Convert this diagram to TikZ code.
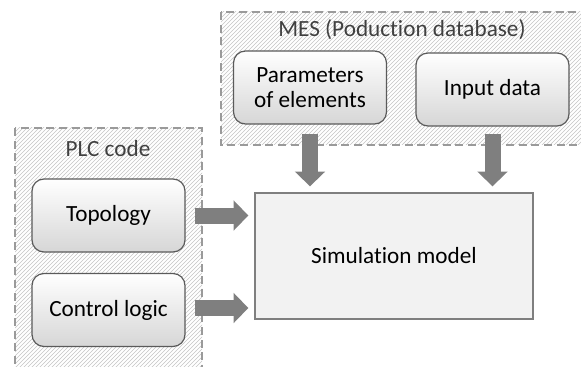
\documentclass[tikz,border=0pt]{standalone}
\usepackage{fontspec}
\setmainfont{Carlito}[Ligatures=NoCommon]
\usetikzlibrary{arrows.meta,patterns,positioning}
\definecolor{framegray}{HTML}{9A9A9A}
\definecolor{hatchgray}{HTML}{C4C4C4}
\definecolor{boxborder}{HTML}{5A5A5A}
\definecolor{arrowgray}{HTML}{7F7F7F}
\definecolor{titlegray}{HTML}{404040}
\tikzstyle{group} = [draw=framegray, dash pattern=on 6pt off 3.5pt, line width=1.1pt, pattern=north east lines, pattern color=hatchgray]
\tikzstyle{source} = [draw=boxborder, line width=0.9pt, rounded corners=9pt, top color=white, bottom color=black!16, minimum width=114.75pt, minimum height=54.75pt, align=center, inner sep=0pt]
\tikzstyle{model} = [draw=arrowgray, line width=1pt, fill=black!5, minimum width=208.5pt, minimum height=94.5pt]
\tikzstyle{fat} = [draw=arrowgray, line width=12pt, -{Triangle[length=11pt,width=22pt]}]
\RequirePackage{pgf,pgffor}

\begin{document}
\begin{tikzpicture}[x=0.75pt,y=-0.75pt,font=\fontsize{17.4}{19}\selectfont]
        \clip (0,0) rectangle (581,367);
        % dashed groups
        \draw[group] (15,128) rectangle (202,385);
        \draw[group] (221,12) rectangle (595,145);
        \node (plc) [text=titlegray] at (108,149) {PLC code};
        \node (mes) [text=titlegray] at (402,30) {MES (Poduction database)};

        \node (topo) [source] at (108.5,215.5) {Topology};
        \node (ctrl) [source] at (108.5,310) {Control logic};
        \node (param) [source] at (310,87.5) {Parameters\\of elements};
        \node (input) [source] at (492.5,89.5) {Input data};
        \node (sim) [model] at (394,256) {Simulation model};

        \draw[fat, shorten <=6.75pt, shorten >=4.5pt] (topo.east) -- (sim.west |- topo.east);
        \draw[fat, shorten <=6.75pt, shorten >=4.5pt] ([yshift=1.5pt]ctrl.east) -- ([yshift=1.5pt]sim.west |- ctrl.east);
        \draw[fat, shorten <=6.75pt, shorten >=4.5pt] (param.south) -- (sim.north -| param.south);
        \draw[fat, shorten <=5.25pt, shorten >=4.5pt] (input.south) -- (sim.north -| input.south);
    \end{tikzpicture}
\end{document}
